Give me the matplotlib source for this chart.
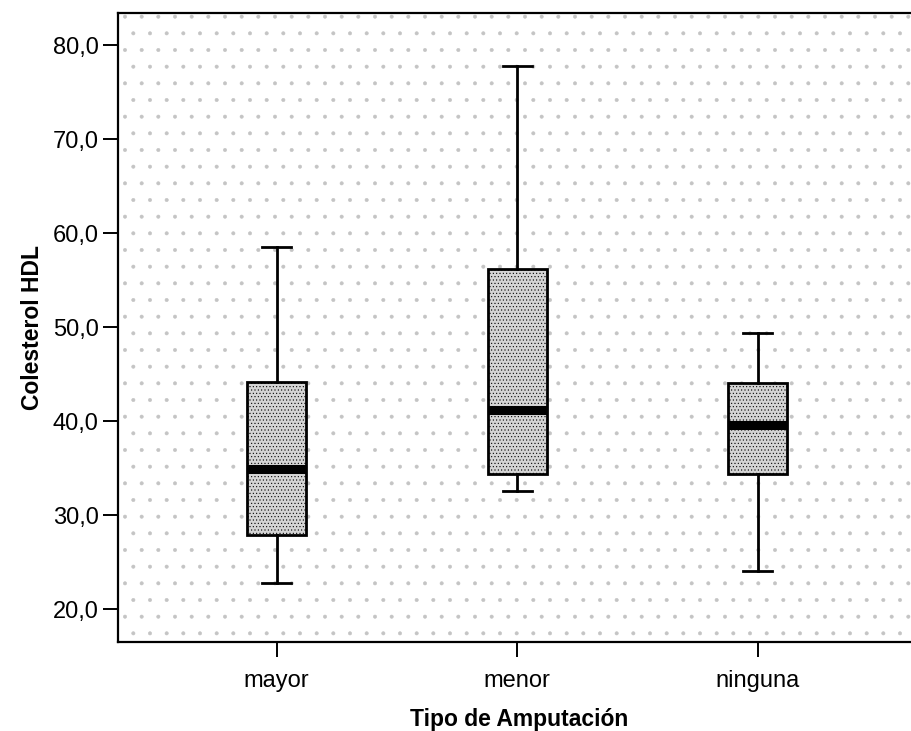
import matplotlib
matplotlib.use('Agg')
import matplotlib.pyplot as plt

# Datos (Colesterol HDL por tipo de amputacion)
categorias = ['mayor', 'menor', 'ninguna']
bigote_inf = [22.8, 32.6, 24.1]
q1 = [27.9, 34.4, 34.4]
mediana = [34.9, 41.2, 39.6]
q3 = [44.2, 56.2, 44.1]
bigote_sup = [58.5, 77.8, 49.4]

yticks = [20, 30, 40, 50, 60, 70, 80]

plt.rcParams['font.family'] = ['Liberation Sans', 'DejaVu Sans']
plt.rcParams['hatch.color'] = '#c4c4c4'
plt.rcParams['hatch.linewidth'] = 0.4

fig = plt.figure(figsize=(9.12, 7.31), dpi=100)
ax = fig.add_axes([0.1294, 0.1218, 0.8706 + 0.01, 0.8602])

#### Fondo punteado
ax.set_facecolor('white')
ax.patch.set_hatch('.')
ax.patch.set_edgecolor('#c4c4c4')

stats = []
for i in range(len(categorias)):
    stats.append({'label': categorias[i], 'whislo': bigote_inf[i], 'q1': q1[i],
                  'med': mediana[i], 'q3': q3[i], 'whishi': bigote_sup[i],
                  'fliers': []})

bp = ax.bxp(stats, positions=[1, 2, 3], widths=0.245, capwidths=0.12,
            patch_artist=True, showfliers=False,
            boxprops=dict(facecolor='#d4d4d4', edgecolor='black', linewidth=2.0),
            medianprops=dict(color='black', linewidth=6.5, solid_capstyle='butt'),
            whiskerprops=dict(color='black', linewidth=2.0),
            capprops=dict(color='black', linewidth=2.0))
for caja in bp['boxes']:
    caja.set_hatch('.....')
    caja.set_edgecolor('black')

#### Ejes
ax.set_xlim(0.34, 3.68)
ax.set_ylim(16.5, 83.4)
ax.set_yticks(yticks)
ax.set_yticklabels([('%.1f' % v).replace('.', ',') for v in yticks])
ax.set_xticks([1, 2, 3])
ax.set_xticklabels(categorias)

for s in ['left', 'bottom', 'top']:
    ax.spines[s].set_linewidth(1.6)
ax.spines['right'].set_visible(False)
ax.tick_params(axis='both', direction='out', length=11, width=1.4,
               labelsize=17, colors='black')
ax.tick_params(axis='y', pad=3)
ax.tick_params(axis='x', pad=9)

ax.set_ylabel('Colesterol HDL', fontsize=16.5, fontweight='bold', labelpad=6)
ax.set_xlabel('Tipo de Amputación', fontsize=16.5, fontweight='bold', labelpad=12)

fig.savefig('out.png', dpi=100)
